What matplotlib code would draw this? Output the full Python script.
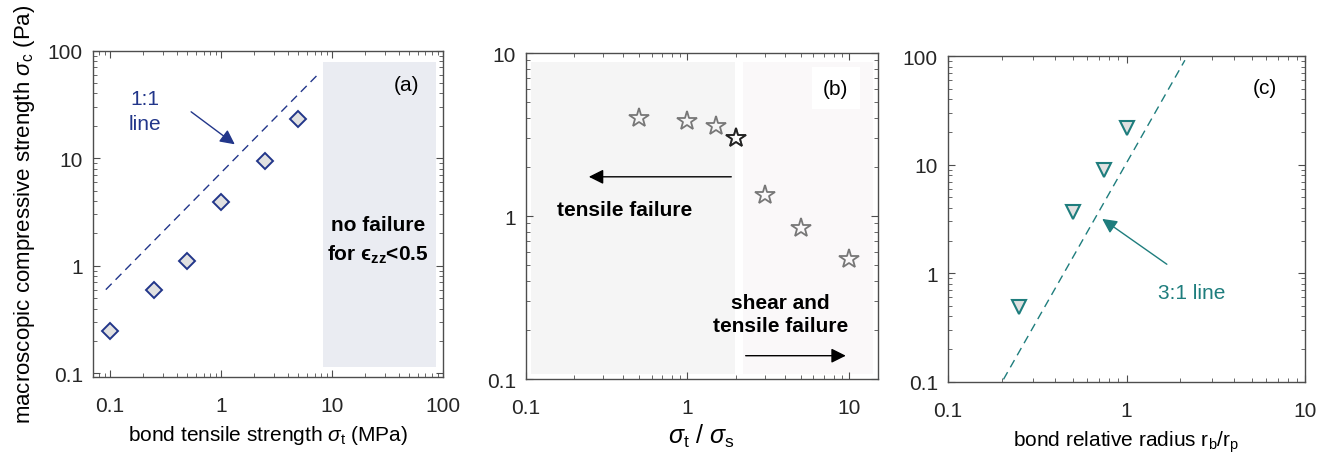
import matplotlib
matplotlib.use("Agg")
import matplotlib.pyplot as plt

plt.rcParams["font.family"] = ["Liberation Sans", "DejaVu Sans"]
plt.rcParams["mathtext.fontset"] = "custom"
plt.rcParams["mathtext.rm"] = "Liberation Sans"
plt.rcParams["mathtext.it"] = "Liberation Sans:italic"
plt.rcParams["mathtext.bf"] = "Liberation Sans:bold"

# (a) compressive strength vs bond tensile strength
tensile = [0.1, 0.25, 0.5, 1, 2.5, 5]
comp_a = [0.25, 0.6, 1.1, 3.9, 9.5, 23]
line11_x = [0.092, 7.5]
line11_y = [0.6, 60]
nofail_x = [8.3, 87]
nofail_y = [0.114, 79]

# (b) compressive strength vs tensile/shear ratio
ratio = [0.5, 1, 1.5, 2, 3, 5, 10]
comp_b = [4.0, 3.85, 3.56, 3.0, 1.34, 0.84, 0.545]
tens_region_x = [0.108, 1.98]
shear_region_x = [2.2, 14]
region_y = [0.108, 8.85]

# (c) compressive strength vs bond radius
radius = [0.25, 0.5, 0.75, 1]
comp_c = [0.49, 3.7, 9.0, 22]
line31_x = [0.205, 2.12]
line31_y = [0.105, 92]

navy = "#22368a"
teal = "#1e7d7d"
spine = "#4d4d4d"
fs = 15

fig = plt.figure(figsize=(13.35, 4.64), dpi=100)
ax_a = fig.add_axes([0.0694, 0.186, 0.2622, 0.7026])
ax_b = fig.add_axes([0.3938, 0.181, 0.2637, 0.7026])
ax_c = fig.add_axes([0.7099, 0.1752, 0.2679, 0.7013])


def style(ax):
    ax.set_xscale("log")
    ax.set_yscale("log")
    for s in ax.spines.values():
        s.set_color(spine)
        s.set_linewidth(1.0)
    ax.tick_params(which="both", direction="in", top=True, right=True,
                   colors=spine, labelcolor="#262626", labelsize=fs)
    ax.tick_params(which="major", length=5)
    ax.tick_params(which="minor", length=3)
    ax.tick_params(axis="x", which="major", pad=14)
    ax.tick_params(axis="y", which="major", pad=7)
    ax.xaxis.set_major_formatter(matplotlib.ticker.FuncFormatter(lambda v, p: f"{v:g}"))
    ax.yaxis.set_major_formatter(matplotlib.ticker.FuncFormatter(lambda v, p: f"{v:g}"))
    ax.xaxis.set_minor_formatter(matplotlib.ticker.NullFormatter())
    ax.yaxis.set_minor_formatter(matplotlib.ticker.NullFormatter())


# ---- panel (a)
style(ax_a)
ax_a.fill_between(nofail_x, nofail_y[0], nofail_y[1], color="#eaecf2", lw=0)
ax_a.plot(line11_x, line11_y, "--", color=navy, lw=1.0, dashes=(6, 4))
ax_a.plot(tensile, comp_a, "D", ms=8.5, mfc="#e1e1e1", mec=navy, mew=1.4)
ax_a.set_xlim(0.07, 100)
ax_a.set_ylim(0.093, 100)
ax_a.set_xticks([0.1, 1, 10, 100])
ax_a.set_yticks([0.1, 1, 10, 100])
ax_a.text(46.9, 49, "(a)", fontsize=fs, ha="center", va="center")
ax_a.text(26.2, 1.73, "no failure\nfor \u03f5$_{\\mathbf{zz}}$<0.5", fontsize=fs,
          fontweight="bold", ha="center", va="center", linespacing=1.5)
ax_a.text(0.207, 27.5, "1:1\nline", color=navy, fontsize=fs, ha="center", va="center",
          linespacing=1.4)
ax_a.annotate("", xy=(1.40, 13), xytext=(0.516, 28),
              arrowprops=dict(arrowstyle="-|>", color=navy, lw=1.0, mutation_scale=22))
ax_a.set_xlabel(r"bond tensile strength $\sigma_{\rm t}$ (MPa)", fontsize=fs, labelpad=6)
ax_a.set_ylabel(r"macroscopic compressive strength $\sigma_{\rm c}$ (Pa)", fontsize=16,
                labelpad=8)

# ---- panel (b)
style(ax_b)
ax_b.fill_between(tens_region_x, region_y[0], region_y[1], color="#f5f5f5", lw=0)
ax_b.fill_between(shear_region_x, region_y[0], region_y[1], color="#faf8f9", lw=0)
ax_b.plot(ratio, comp_b, "*", ms=15, mfc="none", mec="#777777", mew=1.3)
ax_b.plot(ratio[3], comp_b[3], "*", ms=15, mfc="none", mec="#222222", mew=1.3)
ax_b.set_xlim(0.1, 15)
ax_b.set_ylim(0.1, 10)
ax_b.set_xticks([0.1, 1, 10])
ax_b.set_yticks([0.1, 1, 10])
ax_b.text(8.26, 6.07, "(b)", fontsize=fs, ha="center", va="center",
          bbox=dict(boxstyle="square,pad=0.55", fc="white", ec="none"))
ax_b.annotate("", xy=(0.236, 1.74), xytext=(1.94, 1.74),
              arrowprops=dict(arrowstyle="-|>", color="black", lw=1.0, mutation_scale=22))
ax_b.annotate("", xy=(9.9, 0.139), xytext=(2.2, 0.139),
              arrowprops=dict(arrowstyle="-|>", color="black", lw=1.0, mutation_scale=22))
ax_b.text(0.41, 1.09, "tensile failure", fontsize=fs, fontweight="bold",
          ha="center", va="center")
ax_b.text(3.74, 0.25, "shear and\ntensile failure", fontsize=fs, fontweight="bold",
          ha="center", va="center", linespacing=1.3)
ax_b.set_xlabel(r"$\sigma_{\rm t}$ / $\sigma_{\rm s}$", fontsize=18, labelpad=3)

# ---- panel (c)
style(ax_c)
ax_c.plot(line31_x, line31_y, "--", color=teal, lw=1.0, dashes=(6, 4))
ax_c.plot(radius, comp_c, "v", ms=10.5, mfc="#e1e1e1", mec=teal, mew=1.5)
ax_c.set_xlim(0.1, 10)
ax_c.set_ylim(0.1, 100)
ax_c.set_xticks([0.1, 1, 10])
ax_c.set_yticks([0.1, 1, 10, 100])
ax_c.text(5.96, 51.8, "(c)", fontsize=fs, ha="center", va="center")
ax_c.text(2.32, 0.67, "3:1 line", color=teal, fontsize=fs, ha="center", va="center")
ax_c.annotate("", xy=(0.71, 3.28), xytext=(1.73, 1.17),
              arrowprops=dict(arrowstyle="-|>", color=teal, lw=1.0, mutation_scale=22))
ax_c.set_xlabel(r"bond relative radius r$_{\rm b}$/r$_{\rm p}$", fontsize=fs, labelpad=6)

fig.savefig("out.png", dpi=100)
